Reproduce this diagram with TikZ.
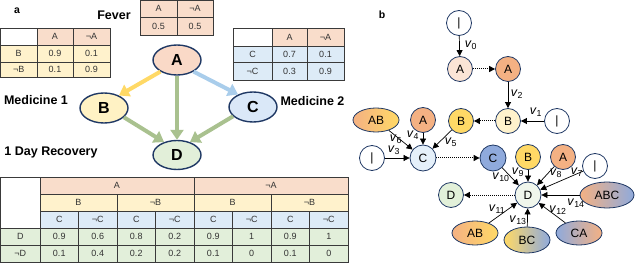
\documentclass[tikz,border=0pt]{standalone}
\usepackage{fontspec}
\setmainfont{Liberation Sans}
\usetikzlibrary{arrows.meta,shapes.geometric}
\definecolor{pinkT}{HTML}{F9DDCB}
\definecolor{yellowT}{HTML}{FFF2CC}
\definecolor{blueT}{HTML}{DDEBF7}
\definecolor{greenT}{HTML}{E2EFDA}
\definecolor{tline}{HTML}{3A3A3A}
\definecolor{ttxt}{HTML}{333333}
\definecolor{navy}{HTML}{1F3864}
\definecolor{nA}{HTML}{FAD9C7}
\definecolor{nB}{HTML}{FFF2C4}
\definecolor{nC}{HTML}{DAE8F8}
\definecolor{nD}{HTML}{E2EFD9}
\definecolor{arY}{HTML}{FFD966}
\definecolor{arB}{HTML}{A9CDEB}
\definecolor{arG}{HTML}{A9C18F}
\definecolor{bApale}{HTML}{FBE5D6}
\definecolor{bA}{HTML}{F4B183}
\definecolor{bBpale}{HTML}{FFF2CC}
\definecolor{bB}{HTML}{FFD966}
\definecolor{bCpale}{HTML}{E5F0FA}
\definecolor{bC}{HTML}{8FAADC}
\definecolor{bDpale}{HTML}{F0F6EC}
\definecolor{bD}{HTML}{E2F0D9}
\newcommand{\tc}[6]{%
  \filldraw[fill=#5, draw=tline, line width=0.6pt] (#1,#2) rectangle (#3,#4);
  \node[ttext] at ({(#1+#3)/2},{(#2+#4)/2}) {#6};}
\newcommand{\vl}[1]{\textit{v}\textsubscript{#1}}
\begin{document}
\begin{tikzpicture}[x=1pt,y=-1pt,
  ttext/.style={font=\fontsize{9}{10}\selectfont, text=ttxt, inner sep=0pt},
  bold/.style={font=\fontsize{12.5}{14}\selectfont\bfseries},
  panel/.style={font=\fontsize{10.5}{12}\selectfont\bfseries},
  anode/.style={ellipse, draw=navy, line width=1.4pt, minimum width=48pt, minimum height=30pt, inner sep=0pt, font=\fontsize{16}{18}\selectfont\bfseries},
  thick arrow/.style={line width=4pt, -{Triangle[width=13pt,length=10pt]}, shorten >=0pt},
  bnode/.style={circle, draw=navy, line width=0.8pt, minimum size=25pt, inner sep=0pt, font=\fontsize{12}{13}\selectfont},
  benode/.style={ellipse, draw=navy, line width=0.8pt, minimum width=46pt, minimum height=24pt, inner sep=0pt, font=\fontsize{12}{13}\selectfont},
  barr/.style={line width=0.7pt, -{Triangle[width=6pt,length=6pt]}},
  bdot/.style={line width=1pt, densely dotted, -{Triangle[width=6pt,length=6pt]}},
  vlab/.style={font=\fontsize{12.5}{13}\selectfont, inner sep=0pt}
]
\useasboundingbox (0,0) rectangle (640,267);

% ---------- panel a ----------
\node[panel] (la) at (17,11) {a};
\node[bold] (fever) at (114,15) {Fever};
\node[bold] (med1) at (36,100) {Medicine 1};
\node[bold, anchor=west] (med2) at (277,101) {Medicine 2};
\node[bold] (rec) at (51,152) {1 Day Recovery};

% Fever table
\tc{140}{0}{177}{17}{pinkT}{A}
\tc{177}{0}{213}{17}{pinkT}{¬A}
\tc{140}{17}{177}{35}{pinkT}{0.5}
\tc{177}{17}{213}{35}{pinkT}{0.5}

% B table
\tc{0.5}{28}{37}{45}{white}{}
\tc{37}{28}{73}{45}{pinkT}{A}
\tc{73}{28}{110}{45}{pinkT}{¬A}
\tc{0.5}{45}{37}{62}{yellowT}{B}
\tc{37}{45}{73}{62}{yellowT}{0.9}
\tc{73}{45}{110}{62}{yellowT}{0.1}
\tc{0.5}{62}{37}{77}{yellowT}{¬B}
\tc{37}{62}{73}{77}{yellowT}{0.1}
\tc{73}{62}{110}{77}{yellowT}{0.9}

% C table
\tc{233}{28}{272}{46}{white}{}
\tc{272}{28}{307}{46}{pinkT}{A}
\tc{307}{28}{344}{46}{pinkT}{¬A}
\tc{233}{46}{272}{62}{blueT}{C}
\tc{272}{46}{307}{62}{blueT}{0.7}
\tc{307}{46}{344}{62}{blueT}{0.1}
\tc{233}{62}{272}{80}{blueT}{¬C}
\tc{272}{62}{307}{80}{blueT}{0.3}
\tc{307}{62}{344}{80}{blueT}{0.9}

% big table
\tc{0.5}{177}{40}{228}{white}{}
\tc{40}{177}{194}{194}{pinkT}{A}
\tc{194}{177}{348}{194}{pinkT}{¬A}
\tc{40}{194}{117}{211}{yellowT}{B}
\tc{117}{194}{194}{211}{yellowT}{¬B}
\tc{194}{194}{271}{211}{yellowT}{B}
\tc{271}{194}{348}{211}{yellowT}{¬B}
\tc{40}{211}{78.5}{228}{blueT}{C}
\tc{78.5}{211}{117}{228}{blueT}{¬C}
\tc{117}{211}{155.5}{228}{blueT}{C}
\tc{155.5}{211}{194}{228}{blueT}{¬C}
\tc{194}{211}{232.5}{228}{blueT}{C}
\tc{232.5}{211}{271}{228}{blueT}{¬C}
\tc{271}{211}{309.5}{228}{blueT}{C}
\tc{309.5}{211}{348}{228}{blueT}{¬C}
\tc{0.5}{228}{40}{245}{greenT}{D}
\tc{40}{228}{78.5}{245}{greenT}{0.9}
\tc{78.5}{228}{117}{245}{greenT}{0.6}
\tc{117}{228}{155.5}{245}{greenT}{0.8}
\tc{155.5}{228}{194}{245}{greenT}{0.2}
\tc{194}{228}{232.5}{245}{greenT}{0.9}
\tc{232.5}{228}{271}{245}{greenT}{1}
\tc{271}{228}{309.5}{245}{greenT}{0.9}
\tc{309.5}{228}{348}{245}{greenT}{1}
\tc{0.5}{245}{40}{262}{greenT}{¬D}
\tc{40}{245}{78.5}{262}{greenT}{0.1}
\tc{78.5}{245}{117}{262}{greenT}{0.4}
\tc{117}{245}{155.5}{262}{greenT}{0.2}
\tc{155.5}{245}{194}{262}{greenT}{0.2}
\tc{194}{245}{232.5}{262}{greenT}{0.1}
\tc{232.5}{245}{271}{262}{greenT}{0}
\tc{271}{245}{309.5}{262}{greenT}{0.1}
\tc{309.5}{245}{348}{262}{greenT}{0}

% Bayesian network nodes
\node[anode, fill=nA] (A) at (177,60) {A};
\node[anode, fill=nB] (B) at (104,108) {B};
\node[anode, fill=nC] (C) at (253,107) {C};
\node[anode, fill=nD, minimum height=29pt] (D) at (177,155) {D};

\draw[thick arrow, arY] (A.215) -- (B.40);
\draw[thick arrow, arB] (A.-35) -- (C.140);
\draw[thick arrow, arG] (A) -- (D);
\draw[thick arrow, arG] (B.-25) -- (D.135);
\draw[thick arrow, arG] (C.205) -- (D.45);

% ---------- panel b ----------
\node[panel] (lb) at (382,15) {b};
\node[bnode, fill=white] (I0) at (459,23) {|};
\node[bnode, fill=bApale] (A1) at (460,69) {A};
\node[bnode, fill=bA] (A2) at (508,69) {A};
\node[bnode, fill=bBpale] (B1) at (508,121) {B};
\node[bnode, fill=white] (I1) at (557,121) {|};
\node[bnode, fill=bB] (B2) at (461,121) {B};
\node[bnode, fill=bA] (A3) at (423,120) {A};
\node[benode, left color=bA, right color=bB] (AB1) at (376,120) {AB};
\node[bnode, fill=bCpale, minimum size=26pt] (C1) at (423,158) {C};
\node[bnode, fill=white] (I2) at (372,158) {|};
\node[bnode, fill=bC, minimum size=26pt] (C2) at (493,158) {C};
\node[bnode, fill=bB] (B3) at (528,157) {B};
\node[bnode, fill=bA] (A4) at (563,157) {A};
\node[bnode, fill=white] (I3) at (595,166) {|};
\node[bnode, fill=bDpale, minimum size=26pt] (D1) at (528,195) {D};
\node[bnode, fill=bD] (D2) at (451,195) {D};
\node[benode, left color=bA, middle color=bB, right color=bC, minimum width=54pt, minimum height=26pt] (ABC) at (607,195) {ABC};
\node[benode, left color=bA, right color=bB] (AB2) at (475,233) {AB};
\node[benode, left color=bB, right color=bC, minimum height=26pt] (BC) at (527,240) {BC};
\node[benode, left color=bC, right color=bA] (CA) at (579,233) {CA};

\draw[barr] (I0) -- (A1);
\draw[bdot] (A1) -- (A2);
\draw[barr] (A2) -- (B1);
\draw[barr] (I1) -- (B1);
\draw[bdot] (B1) -- (B2);
\draw[barr] (I2) -- (C1);
\draw[barr] (A3) -- (C1);
\draw[barr] (AB1) -- (C1);
\draw[barr] (B2) -- (C1);
\draw[bdot] (C1) -- (C2);
\draw[barr] (C2) -- (D1);
\draw[barr] (B3) -- (D1);
\draw[barr] (A4) -- (D1);
\draw[barr] (I3) -- (D1);
\draw[barr] (ABC) -- (D1);
\draw[bdot] (D1) -- (D2);
\draw[barr] (AB2) -- (D1);
\draw[barr] (BC) -- (D1);
\draw[barr] (CA) -- (D1);

\node[vlab] (v0) at (471,45) {\vl{0}};
\node[vlab] (v2) at (517,94) {\vl{2}};
\node[vlab] (v1) at (536,112) {\vl{1}};
\node[vlab] (v3) at (394,150) {\vl{3}};
\node[vlab] (v4) at (413,135) {\vl{4}};
\node[vlab] (v5) at (451,142) {\vl{5}};
\node[vlab] (v6) at (396,139) {\vl{6}};
\node[vlab] (v10) at (501,177) {\vl{10}};
\node[vlab] (v9) at (518,172) {\vl{9}};
\node[vlab] (v8) at (556,173) {\vl{8}};
\node[vlab] (v7) at (577,172) {\vl{7}};
\node[vlab] (v14) at (576,203) {\vl{14}};
\node[vlab] (v11) at (497,209) {\vl{11}};
\node[vlab] (v13) at (518,220) {\vl{13}};
\node[vlab] (v12) at (558,210) {\vl{12}};
\end{tikzpicture}
\end{document}
